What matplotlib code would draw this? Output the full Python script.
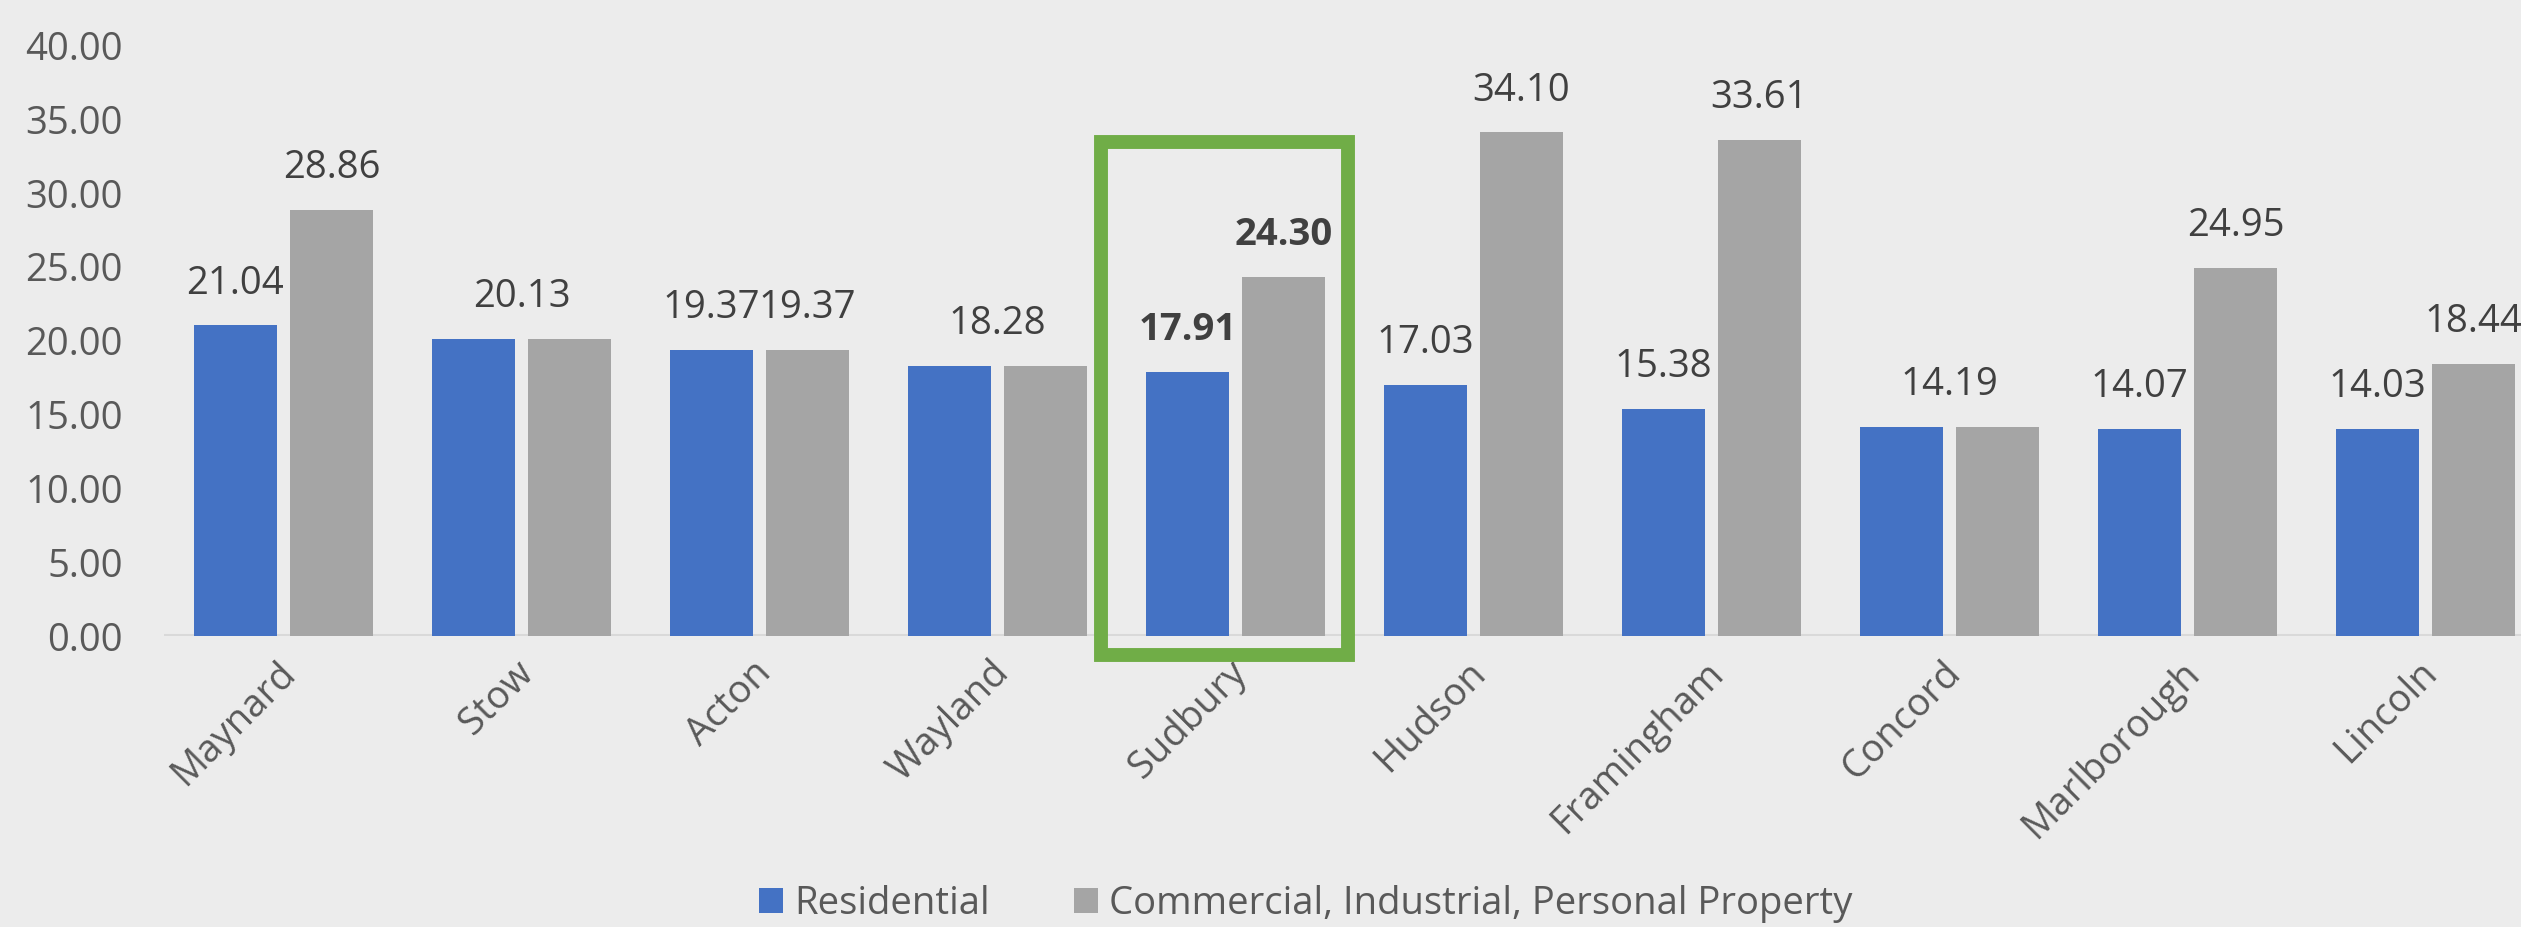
import numpy as np
import matplotlib
matplotlib.use('Agg')
import matplotlib.pyplot as plt
from matplotlib.patches import Rectangle
import matplotlib.transforms as mtransforms

# towns and tax rates (per $1000)
towns = ['Maynard', 'Stow', 'Acton', 'Wayland', 'Sudbury', 'Hudson',
         'Framingham', 'Concord', 'Marlborough', 'Lincoln']
residential = [21.04, 20.13, 19.37, 18.28, 17.91, 17.03, 15.38, 14.19, 14.07, 14.03]
commercial = [28.86, 20.13, 19.37, 18.28, 24.30, 34.10, 33.61, 14.19, 24.95, 18.44]
series_names = ['Residential', 'Commercial, Industrial, Personal Property']
yticks = [0, 5, 10, 15, 20, 25, 30, 35, 40]
highlight = 'Sudbury'
# single-rate towns: only one label, over the pair
single_label = ['Stow', 'Wayland', 'Concord']

bg = '#ececec'
blue = '#4472c4'
grey = '#a5a5a5'
fs = 27.5

plt.rcParams['font.family'] = ['Open Sans', 'DejaVu Sans']

fig = plt.figure(figsize=(25.21, 9.27), dpi=100, facecolor=bg)
ax = fig.add_axes([0.06525, 0.3134, 0.9441, 0.6378], facecolor=bg)

x = np.arange(len(towns))
w = 0.349
off = 0.2017
b1 = ax.bar(x - off, residential, w, color=blue, zorder=2, label=series_names[0])
b2 = ax.bar(x + off, commercial, w, color=grey, zorder=2, label=series_names[1])
ax.axhline(0, color='#d9d9d9', lw=2.9, zorder=1)

def label(xpos, v, bold):
    ax.annotate(f'{v:.2f}', (xpos, v), xytext=(0, 23), textcoords='offset points',
                ha='center', va='baseline', fontsize=fs, color='#404040',
                fontweight='bold' if bold else 'normal')

hi = towns.index(highlight)
for i, t in enumerate(towns):
    if t in single_label:
        label(x[i], residential[i], i == hi)
        continue
    label(x[i] - off, residential[i], i == hi)
    label(x[i] + off, commercial[i], i == hi)

ax.set_xlim(-0.5, len(towns) - 0.5)
ax.set_ylim(0, 40)
ax.set_yticks(yticks)
ax.set_yticklabels([f'{t:.2f}' for t in yticks], fontsize=fs, color='#595959')
ax.tick_params(axis='y', length=0, pad=30)
ax.set_xticks(x)
ax.set_xticklabels(towns, fontsize=fs, color='#595959', rotation=45,
                   ha='right', va='center', rotation_mode='anchor')
ax.tick_params(axis='x', length=0, pad=22)
shift = mtransforms.ScaledTranslation(6 / 100, 0, fig.dpi_scale_trans)
for lbl in ax.get_xticklabels():
    lbl.set_transform(lbl.get_transform() + shift)
for s in ax.spines.values():
    s.set_visible(False)

# green box round Sudbury
ax.add_patch(Rectangle((hi - 0.565, -1.25), 1.038, 34.71, fill=False,
                       edgecolor='#70ad47', lw=10, clip_on=False, zorder=3))

fig.legend(handles=[b1, b2], loc='center', bbox_to_anchor=(0.518, 0.025),
           ncol=2, frameon=False, fontsize=fs, labelcolor='#595959',
           handlelength=0.63, handleheight=0.63, handletextpad=0.29,
           columnspacing=2.2)

fig.savefig('out.png', dpi=100, facecolor=bg)
